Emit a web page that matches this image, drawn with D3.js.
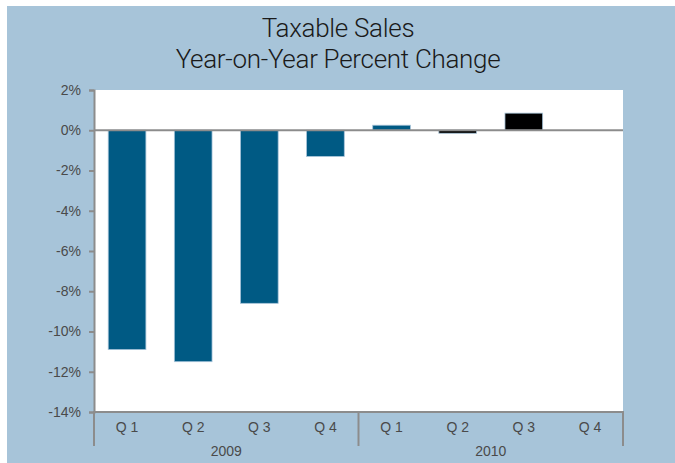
<!DOCTYPE html>
<html>
<head>
<meta charset="utf-8">
<script src="https://cdn.jsdelivr.net/npm/d3@7"></script>
<style>
  html, body { margin: 0; padding: 0; background: #ffffff; }
  svg { display: block; }
  text { font-family: "Liberation Sans", "DejaVu Sans", sans-serif; }
</style>
</head>
<body>
<svg id="chart" width="675" height="463"></svg>
<script>
// Taxable sales, year-on-year percent change by quarter
const years = ["2009", "2010"];
const quarters = ["Q 1", "Q 2", "Q 3", "Q 4"];
const values2009 = [-10.9, -11.5, -8.6, -1.3];
const values2010 = [0.25, -0.15, 0.85, 0];
const barColors2009 = ["#005a84", "#005a84", "#005a84", "#005a84"];
const barColors2010 = ["#005a84", "#000000", "#000000", "#005a84"];
const yTicks = [2, 0, -2, -4, -6, -8, -10, -12, -14];
const titleLines = ["Taxable Sales", "Year-on-Year Percent Change"];

const rows = [];
years.forEach((yr, yi) => {
  const vals = yi === 0 ? values2009 : values2010;
  const cols = yi === 0 ? barColors2009 : barColors2010;
  quarters.forEach((q, qi) => {
    rows.push({ key: yr + "-" + q, year: yr, quarter: q, value: vals[qi], color: cols[qi] });
  });
});

const svg = d3.select("#chart");
const W = 675, H = 463;
const plot = { left: 94, right: 623, top: 90, bottom: 412 };
const labelColor = "#4a4a4a";

// panel background
svg.append("rect")
  .attr("x", 7).attr("y", 6)
  .attr("width", W - 7).attr("height", H - 6)
  .attr("fill", "#a7c4d9");

// title
svg.append("g").selectAll("text")
  .data(titleLines)
  .join("text")
  .attr("x", 338)
  .attr("y", (d, i) => 37 + i * 31)
  .attr("text-anchor", "middle")
  .attr("font-size", 26)
  .attr("fill", "#1a1a1a")
  .style("font-family", "Roboto, 'Liberation Sans', sans-serif")
  .style("font-weight", 300)
  .style("letter-spacing", "-0.3px")
  .text(d => d);

const x = d3.scaleBand()
  .domain(rows.map(d => d.key))
  .range([plot.left, plot.right])
  .paddingInner(0.43)
  .paddingOuter(0.215);

const y = d3.scaleLinear()
  .domain([-14, 2])
  .range([plot.bottom, plot.top]);

// white plot area
svg.append("rect")
  .attr("x", plot.left).attr("y", plot.top)
  .attr("width", plot.right - plot.left)
  .attr("height", plot.bottom - plot.top)
  .attr("fill", "#ffffff");

// bars
svg.append("g").selectAll("rect")
  .data(rows.filter(d => d.value !== 0))
  .join("rect")
  .attr("x", d => x(d.key))
  .attr("width", x.bandwidth())
  .attr("y", d => y(Math.max(0, d.value)))
  .attr("height", d => Math.abs(y(d.value) - y(0)))
  .attr("fill", d => d.color)
  .attr("stroke", "#a7c4d9")
  .attr("stroke-width", 0.8);

// zero line
svg.append("line")
  .attr("x1", plot.left).attr("x2", plot.right)
  .attr("y1", y(0)).attr("y2", y(0))
  .attr("stroke", "#8c8c8c")
  .attr("stroke-width", 2);

// y axis
const yAxis = svg.append("g")
  .attr("transform", `translate(${plot.left},0)`)
  .call(d3.axisLeft(y).tickValues(yTicks).tickSize(5).tickPadding(8)
    .tickFormat(d => d + "%"));
yAxis.select(".domain").attr("stroke", "#8c8c8c").attr("stroke-width", 2);
yAxis.selectAll(".tick line").attr("stroke", "#8c8c8c").attr("stroke-width", 2);
yAxis.selectAll(".tick text")
  .attr("fill", labelColor)
  .attr("font-size", 14)
  .style("font-family", "'Liberation Sans', sans-serif");

// x axis: bottom line, quarter labels, year groups
svg.append("line")
  .attr("x1", plot.left - 1).attr("x2", plot.right + 1)
  .attr("y1", plot.bottom).attr("y2", plot.bottom)
  .attr("stroke", "#8c8c8c").attr("stroke-width", 2);

svg.append("g").selectAll("text")
  .data(rows)
  .join("text")
  .attr("x", d => x(d.key) + x.bandwidth() / 2)
  .attr("y", plot.bottom + 20)
  .attr("text-anchor", "middle")
  .attr("font-size", 14)
  .attr("fill", labelColor)
  .text(d => d.quarter);

const yearGroups = years.map(yr => {
  const keys = rows.filter(r => r.year === yr).map(r => r.key);
  const step = x.step();
  const x0 = x(keys[0]) - x.paddingInner() * step / 2;
  const x1 = x(keys[keys.length - 1]) + x.bandwidth() + x.paddingInner() * step / 2;
  return { year: yr, x0, x1 };
});
yearGroups[0].x0 = plot.left;
yearGroups[yearGroups.length - 1].x1 = plot.right;

const seps = [plot.left, ...yearGroups.slice(1).map(g => g.x0), plot.right];
svg.append("g").selectAll("line")
  .data(seps)
  .join("line")
  .attr("x1", d => d).attr("x2", d => d)
  .attr("y1", plot.bottom).attr("y2", plot.bottom + 34)
  .attr("stroke", "#8c8c8c").attr("stroke-width", 2);

svg.append("g").selectAll("text")
  .data(yearGroups)
  .join("text")
  .attr("x", d => (d.x0 + d.x1) / 2)
  .attr("y", plot.bottom + 44)
  .attr("text-anchor", "middle")
  .attr("font-size", 14)
  .attr("fill", labelColor)
  .text(d => d.year);
</script>
</body>
</html>
